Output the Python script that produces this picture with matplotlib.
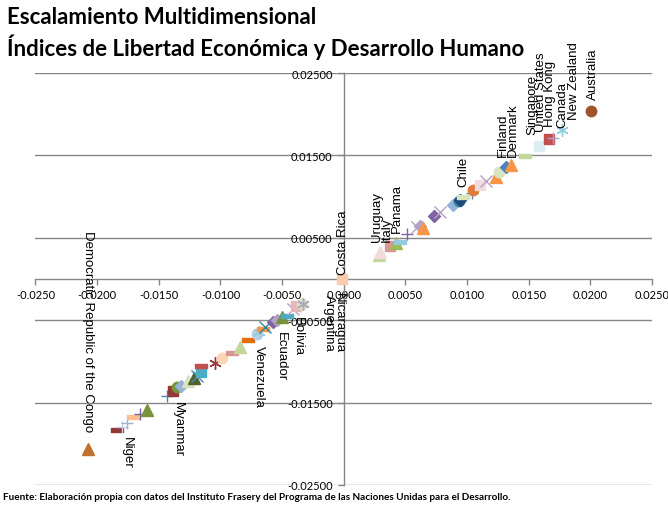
import numpy as np
import matplotlib
matplotlib.use("Agg")
import matplotlib.pyplot as plt
from matplotlib.path import Path

# =========================
# DATA (coordenadas MDS)
# =========================

pt_x = [-0.02074, -0.01839, -0.01798, -0.01757, -0.01708, -0.01652, -0.01595,
        -0.01433, -0.01384, -0.01352, -0.01320, -0.01263, -0.01214, -0.01190,
        -0.01157, -0.01157, -0.01044, -0.00987, -0.00906, -0.00841, -0.00776,
        -0.00703, -0.00687, -0.00654, -0.00638, -0.00573, -0.00541, -0.00500,
        -0.00460, -0.00411, -0.00387, -0.00338, -0.00330, -0.00014,
        0.00286, 0.00294, 0.00375, 0.00424, 0.00457, 0.00513, 0.00594, 0.00619,
        0.00643, 0.00732, 0.00781, 0.00886, 0.00935, 0.00943, 0.00967, 0.01041,
        0.01049, 0.01106, 0.01154, 0.01236, 0.01260, 0.01317, 0.01357, 0.01470,
        0.01584, 0.01665, 0.01698, 0.01771, 0.02006]
pt_y = [-0.02063, -0.01833, -0.01796, -0.01748, -0.01675, -0.01638, -0.01590,
        -0.01420, -0.01359, -0.01311, -0.01299, -0.01238, -0.01201, -0.01177,
        -0.01129, -0.01056, -0.01019, -0.00959, -0.00898, -0.00825, -0.00740,
        -0.00667, -0.00643, -0.00607, -0.00583, -0.00522, -0.00498, -0.00461,
        -0.00449, -0.00364, -0.00328, -0.00303, -0.00303, 0.00000,
        0.00291, 0.00328, 0.00400, 0.00437, 0.00449, 0.00546, 0.00631, 0.00643,
        0.00619, 0.00765, 0.00813, 0.00898, 0.00947, 0.00959, 0.00995, 0.01044,
        0.01080, 0.01141, 0.01189, 0.01238, 0.01299, 0.01359, 0.01383, 0.01493,
        0.01614, 0.01699, 0.01711, 0.01808, 0.02039]
pt_marker = ["^", "dash", "+", "+", "dash", "+", "^",
             "+", "s", "o", "D", "^", "^", "x",
             "s", "dash", "star", "o", "dash", "^", "dash",
             "o", "star", "dash", "x", "D", "D", "^",
             "dash", "x", "s", "o", "star", "s",
             "^", "^", "s", "^", "dash", "+", "x", "D",
             "^", "D", "x", "D", "o", "D", "dash", "+",
             "o", "s", "x", "^", "o", "D", "^", "dash",
             "s", "s", "+", "star", "o"]
pt_color = ["#C0702A", "#953735", "#C9CCE3", "#95B3D7", "#FAC090", "#8064A2", "#77933C",
            "#4F81BD", "#953735", "#77933C", "#95B3D7", "#D7E4BD", "#4F6228", "#4F81BD",
            "#4BACC6", "#C0504D", "#953735", "#FCD5B5", "#D99694", "#C3D69B", "#E46C0A",
            "#B9CDE5", "#93CDDD", "#F79646", "#31859C", "#8064A2", "#B3A2C7", "#77933C",
            "#4BACC6", "#B3A2C7", "#E6B9B8", "#D7E4BD", "#B3A2C7", "#F8CBAD",
            "#C3D69B", "#F2DCDB", "#D99694", "#9BBB59", "#93CDDD", "#8064A2", "#B3A2C7", "#B3A2C7",
            "#F79646", "#8064A2", "#B3A2C7", "#95B3D7", "#31859C", "#1F497D", "#D7E4BD", "#4F81BD",
            "#E07B39", "#F2DCDB", "#B3A2C7", "#F79646", "#D7E4BD", "#4F81BD", "#F79646", "#C3D69B",
            "#DBEEF4", "#C0504D", "#B3A2C7", "#93CDDD", "#A0522D"]

# etiquetas: (texto, índice del punto, dx px, dy px, lado)
labels = [
    ("Democratic Republic of the Congo", 0, 0, 18, "up270"),
    ("Niger", 3, 0, -13, "down"),
    ("Myanmar", 8, 5, -10, "down"),
    ("Venezuela", 21, 2, -11, "down"),
    ("Ecuador", 27, -1, -14, "down"),
    ("Bolivia", 30, 2, -10, "down"),
    ("Argentina", 33, -13, -15, "down"),
    ("Nicaragua", 33, -3, -13, "down"),
    ("Costa Rica", 33, 1, 5, "up"),
    ("Uruguay", 35, -3, 11, "up"),
    ("Italy", 36, -3, 5, "up"),
    ("Panama", 38, -3, 10, "up"),
    ("Chile", 48, 0, 11, "up"),
    ("Finland", 55, -3, 11, "up"),
    ("Denmark", 56, 2, 9, "up"),
    ("Singapore", 57, 7, 22, "up"),
    ("United States", 58, 2, 15, "up"),
    ("Hong Kong", 59, 1, 13, "up"),
    ("Canada", 61, 0, 3, "up"),
    ("New Zealand", 60, 21, 19, "up"),
    ("Australia", 62, 2, 12, "up"),
]

x_ticks = np.arange(-0.025, 0.02501, 0.005)
y_ticks = np.arange(-0.025, 0.02501, 0.01)

# =========================
# FIGURE
# =========================

plt.rcParams["font.family"] = ["Lato", "DejaVu Sans"]

fig = plt.figure(figsize=(6.68, 5.10), dpi=100)
ax = fig.add_axes([0.0531, 0.0471, 0.923, 0.8078])

dash = Path([(-1, -0.32), (1, -0.32), (1, 0.32), (-1, 0.32), (-1, -0.32)],
            [Path.MOVETO, Path.LINETO, Path.LINETO, Path.LINETO, Path.CLOSEPOLY])
styles = {
    "s": dict(marker="s", ms=7.5),
    "D": dict(marker="D", ms=6.5),
    "^": dict(marker="^", ms=8.5),
    "o": dict(marker="o", ms=7.5),
    "x": dict(marker="x", ms=8, mew=1.0),
    "+": dict(marker="+", ms=9, mew=1.0),
    "star": dict(marker=(6, 2, 0), ms=9, mew=1.0),
    "dash": dict(marker=dash, ms=8),
}

for xv, yv, mk, col in zip(pt_x, pt_y, pt_marker, pt_color):
    ax.plot(xv, yv, linestyle="none", color=col, mfc=col, mec=col, zorder=3, **styles[mk])

for txt, i, dx, dy, side in labels:
    if side == "up":
        rot, va = 90, "bottom"
    elif side == "up270":
        rot, va = 270, "bottom"
    else:
        rot, va = 270, "top"
    ax.annotate(txt, (pt_x[i], pt_y[i]), xytext=(dx, dy), textcoords="offset pixels",
                rotation=rot, ha="center", va=va, fontsize=9.5,
                family=["Liberation Sans", "DejaVu Sans"], zorder=4)

ax.set_xlim(-0.025, 0.025)
ax.set_ylim(-0.025, 0.025)
ax.set_xticks(x_ticks)
ax.set_yticks(y_ticks)
ax.set_xticklabels([f"{v:.4f}" for v in x_ticks])
ax.set_yticklabels([f"{v:.5f}" for v in y_ticks])

for s in ["top", "right"]:
    ax.spines[s].set_visible(False)
ax.spines["bottom"].set_position(("data", 0))
ax.spines["left"].set_position(("data", 0))
for s in ["bottom", "left"]:
    ax.spines[s].set_color("#868686")
    ax.spines[s].set_linewidth(1)
    ax.spines[s].set_zorder(1)

ax.yaxis.grid(True, color="#868686", linewidth=1)
ax.set_axisbelow(True)
ax.tick_params(axis="both", colors="#868686", length=4, width=1, labelsize=8, labelcolor="black")
ax.tick_params(axis="x", pad=3)
ax.tick_params(axis="y", pad=4)

fig.text(0.0105, 0.965, "Escalamiento Multidimensional", fontsize=16, fontweight="bold",
         va="center", ha="left")
fig.text(0.0105, 0.908, "Índices de Libertad Económica y Desarrollo Humano", fontsize=16,
         fontweight="bold", va="center", ha="left")
fig.text(0.0045, 0.025, "Fuente: Elaboración propia con datos del Instituto Frasery del Programa "
         "de las Naciones Unidas para el Desarrollo.", fontsize=7.2, fontweight="bold",
         va="center", ha="left")

plt.savefig("out.png", dpi=100)
